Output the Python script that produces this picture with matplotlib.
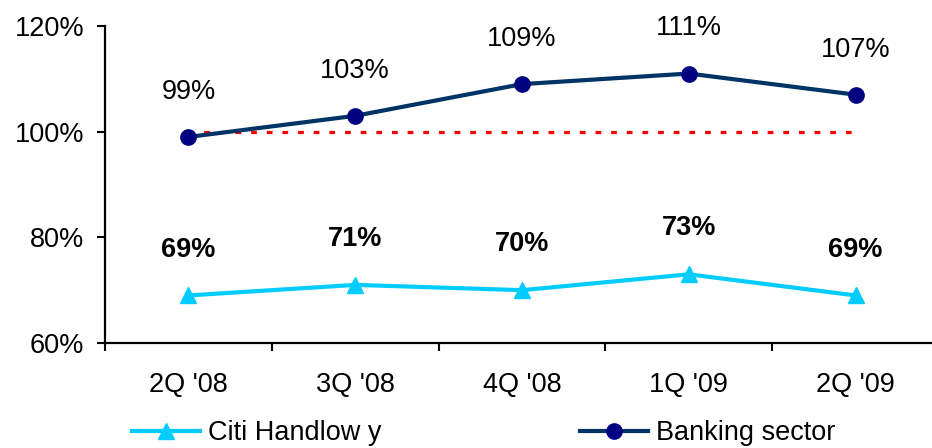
import matplotlib
matplotlib.use("Agg")
import matplotlib.pyplot as plt
from matplotlib.lines import Line2D

plt.rcParams['font.family'] = ['Liberation Sans', 'DejaVu Sans']

quarters = ["2Q '08", "3Q '08", "4Q '08", "1Q '09", "2Q '09"]
citi_handlowy = [69, 71, 70, 73, 69]
banking_sector = [99, 103, 109, 111, 107]
y_ticks = [60, 80, 100, 120]
reference_level = 100

W, H = 932, 448
fig = plt.figure(figsize=(W / 100, H / 100), dpi=100)
ax = fig.add_axes([105 / W, (H - 343) / H, (939 - 105) / W, (343 - 26) / H])

x = list(range(len(quarters)))
FS = 19.5

ax.hlines(reference_level, x[0], x[-1], colors='#FF0000', linestyles=(0, (1.8, 3.1)),
          linewidth=2.3, zorder=2)

ax.plot(x, banking_sector, color='#003366', linewidth=3.0, marker='o', markersize=11,
        markerfacecolor='#000080', markeredgecolor='#000080', zorder=3, clip_on=False)
ax.plot(x, citi_handlowy, color='#00CCFF', linewidth=3.0, marker='^', markersize=12,
        markerfacecolor='#00CCFF', markeredgecolor='#00CCFF', zorder=3, clip_on=False)

for xi, v in zip(x, banking_sector):
    ax.annotate(f"{v}%", (xi, v), xytext=(0, 32.5), textcoords='offset points',
                ha='center', va='center', fontsize=FS, color='black')
for xi, v in zip(x, citi_handlowy):
    ax.annotate(f"{v}%", (xi, v), xytext=(0, 33), textcoords='offset points',
                ha='center', va='center', fontsize=FS, fontweight='bold', color='black')

ax.set_xlim(-0.5, len(quarters) - 0.5)
ax.set_ylim(60, 120)
ax.set_yticks(y_ticks)
ax.set_yticklabels([f"{t}%" for t in y_ticks], fontsize=FS)
ax.set_xticks(x)
ax.set_xticklabels(quarters, fontsize=FS)
ax.set_xticks([i - 0.5 for i in range(len(quarters) + 1)], minor=True)
ax.tick_params(axis='x', which='major', length=0, pad=21)
ax.tick_params(axis='x', which='minor', length=6, width=1.5, direction='out', color='black')
ax.tick_params(axis='y', which='major', length=6, width=1.5, direction='out', pad=9)

for side in ('top', 'right'):
    ax.spines[side].set_visible(False)
for side in ('left', 'bottom'):
    ax.spines[side].set_linewidth(1.6)
    ax.spines[side].set_color('black')

h_citi = Line2D([], [], color='#00CCFF', linewidth=3.0, marker='^', markersize=12,
                markerfacecolor='#00CCFF', markeredgecolor='#00CCFF')
h_bank = Line2D([], [], color='#003366', linewidth=3.0, marker='o', markersize=11,
                markerfacecolor='#000080', markeredgecolor='#000080')

fig.legend([h_citi], ["Citi Handlow y"], loc='center left',
           bbox_to_anchor=(132 / W, 15 / H), frameon=False, fontsize=FS,
           handlelength=2.5, handletextpad=0.3, borderpad=0, borderaxespad=0)
fig.legend([h_bank], ["Banking sector"], loc='center left',
           bbox_to_anchor=(580 / W, 15 / H), frameon=False, fontsize=FS,
           handlelength=2.5, handletextpad=0.3, borderpad=0, borderaxespad=0)

fig.savefig("out.png", dpi=100)
